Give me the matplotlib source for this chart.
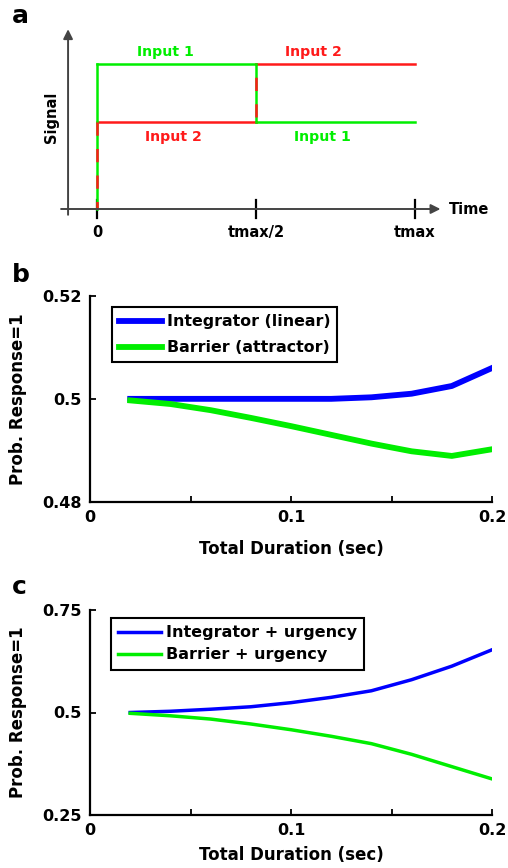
import matplotlib
matplotlib.use("Agg")
import matplotlib.pyplot as plt
import numpy as np

plt.rcParams['font.family'] = ['DejaVu Sans']
plt.rcParams['font.weight'] = 'bold'

# ---------------- data ----------------
# panel a: schematic step inputs (time in units of tmax)
a_times = [0.0, 0.5, 1.0]
a_input1 = [1.0, 0.6]   # level during first half, second half
a_input2 = [0.6, 1.0]
a_tick_labels = ['0', 'tmax/2', 'tmax']

# panel b
durations = [0.02, 0.04, 0.06, 0.08, 0.10, 0.12, 0.14, 0.16, 0.18, 0.20]
b_integrator = [0.5000, 0.5000, 0.5000, 0.5000, 0.5000, 0.5000, 0.5003, 0.5010, 0.5025, 0.5060]
b_barrier = [0.4997, 0.4990, 0.4978, 0.4963, 0.4947, 0.4930, 0.4913, 0.4898, 0.4889, 0.4902]
b_labels = ['Integrator (linear)', 'Barrier (attractor)']

# panel c
c_integrator = [0.500, 0.503, 0.508, 0.514, 0.524, 0.537, 0.553, 0.580, 0.613, 0.653]
c_barrier = [0.498, 0.492, 0.484, 0.472, 0.458, 0.442, 0.424, 0.398, 0.368, 0.338]
c_labels = ['Integrator + urgency', 'Barrier + urgency']

x_ticks = [0, 0.05, 0.1, 0.15, 0.2]
x_ticklabels = ['0', '', '0.1', '', '0.2']

BLUE = '#0000ff'
GREEN = '#00ee00'
RED = '#ff1a1a'

W, H = 508, 868
fig = plt.figure(figsize=(W / 100, H / 100), dpi=100)

def pos(l, t, r, b):
    return [l / W, 1 - b / H, (r - l) / W, (b - t) / H]

# ---------------- panel a ----------------
axa = fig.add_axes(pos(40, 20, 480, 250))
axa.set_xlim((40 - 97) / 318, (480 - 97) / 318)
axa.set_ylim((209 - 250) / 145, (209 - 20) / 145)
axa.axis('off')
ax_col = '#444444'
axa.annotate('', xy=(1.08, 0), xytext=(-0.113, 0),
             arrowprops=dict(arrowstyle='-|>', color=ax_col, lw=1.4, mutation_scale=14, shrinkA=0, shrinkB=0))
axa.annotate('', xy=(-0.091, 1.24), xytext=(-0.091, -0.04),
             arrowprops=dict(arrowstyle='-|>', color=ax_col, lw=1.4, mutation_scale=14, shrinkA=0, shrinkB=0))
for t in a_times:
    axa.plot([t, t], [-0.065, 0.065], color='black', lw=1.6)
lw_a = 1.8
t0, t1, t2 = a_times
# Input 1 (green)
axa.plot([t0, t1], [a_input1[0]] * 2, color=GREEN, lw=lw_a)
axa.plot([t1, t2], [a_input1[1]] * 2, color=GREEN, lw=lw_a)
# Input 2 (red)
axa.plot([t0, t1], [a_input2[0]] * 2, color=RED, lw=lw_a)
axa.plot([t1, t2], [a_input2[1]] * 2, color=RED, lw=lw_a)
# vertical rises (alternating red/green dashes where both inputs overlap)
axa.plot([t0, t0], [0, a_input1[0]], color=GREEN, lw=lw_a)
axa.plot([t0, t0], [a_input2[0], 0], color=RED, lw=lw_a, linestyle=(0, (5.3, 5.3)))
axa.plot([t1, t1], [a_input2[0], a_input1[0]], color=GREEN, lw=lw_a)
axa.plot([t1, t1], [a_input1[0], a_input2[0]], color=RED, lw=lw_a, linestyle=(5.3, (5.3, 5.3)))

for t, lab in zip(a_times, a_tick_labels):
    axa.text(t, -0.16, lab, ha='center', va='center', fontsize=10.5, fontweight='bold')
axa.text(1.105, 0.0, 'Time', ha='left', va='center', fontsize=10.5, fontweight='bold')
axa.text(-0.142, 0.63, 'Signal', ha='center', va='center', rotation=90, fontsize=10.5, fontweight='bold')
fs_in = 10.2
axa.text(0.215, 1.08, 'Input 1', color=GREEN, ha='center', va='center', fontsize=fs_in, fontweight='bold')
axa.text(0.68, 1.08, 'Input 2', color=RED, ha='center', va='center', fontsize=fs_in, fontweight='bold')
axa.text(0.24, 0.5, 'Input 2', color=RED, ha='center', va='center', fontsize=fs_in, fontweight='bold')
axa.text(0.71, 0.5, 'Input 1', color=GREEN, ha='center', va='center', fontsize=fs_in, fontweight='bold')

fig.text(12 / W, 1 - 16 / H, 'a', fontsize=18, fontweight='bold', va='center', ha='left')
fig.text(12 / W, 1 - 275 / H, 'b', fontsize=18, fontweight='bold', va='center', ha='left')
fig.text(12 / W, 1 - 587 / H, 'c', fontsize=18, fontweight='bold', va='center', ha='left')

def style(ax, ylim, yticks, yticklabels, xlabel_y):
    ax.set_xlim(0, 0.2)
    ax.set_ylim(*ylim)
    ax.set_xticks(x_ticks)
    ax.set_xticklabels(x_ticklabels)
    ax.set_yticks(yticks)
    ax.set_yticklabels(yticklabels)
    for s in ['top', 'right']:
        ax.spines[s].set_visible(False)
    for s in ['left', 'bottom']:
        ax.spines[s].set_linewidth(1.6)
    ax.tick_params(direction='in', length=4, width=1.3, labelsize=11.5, pad=6)
    for lab in ax.get_xticklabels() + ax.get_yticklabels():
        lab.set_fontweight('bold')
    ax.set_xlabel('Total Duration (sec)', fontsize=12, fontweight='bold')
    ax.set_ylabel('Prob. Response=1', fontsize=12, fontweight='bold')
    ax.xaxis.set_label_coords(0.5, xlabel_y)
    ax.yaxis.set_label_coords(-0.157, 0.5)

def style_legend(leg):
    leg.get_frame().set_linewidth(1.5)
    for t in leg.get_texts():
        t.set_fontweight('bold')

# ---------------- panel b ----------------
axb = fig.add_axes(pos(90, 296, 492, 501.7))
axb.plot(durations, b_integrator, color=BLUE, lw=4.2, label=b_labels[0])
axb.plot(durations, b_barrier, color=GREEN, lw=4.2, label=b_labels[1])
style(axb, (0.48, 0.52), [0.48, 0.5, 0.52], ['0.48', '0.5', '0.52'], -0.185)
legb = axb.legend(loc='upper left', bbox_to_anchor=((112 - 90) / 402, (501.7 - 307) / 205.7),
                  prop={'size': 11.4, 'weight': 'bold'}, frameon=True, fancybox=False, framealpha=1,
                  edgecolor='black', handlelength=2.7, handletextpad=0.3, labelspacing=0.7,
                  borderpad=0.45, borderaxespad=0)
style_legend(legb)

# ---------------- panel c ----------------
axc = fig.add_axes(pos(90, 610, 492, 815))
axc.plot(durations, c_integrator, color=BLUE, lw=2.5, label=c_labels[0])
axc.plot(durations, c_barrier, color=GREEN, lw=2.5, label=c_labels[1])
style(axc, (0.25, 0.75), [0.25, 0.5, 0.75], ['0.25', '0.5', '0.75'], -0.15)
legc = axc.legend(loc='upper left', bbox_to_anchor=((111 - 90) / 402, (815 - 618) / 205),
                  prop={'size': 11.5, 'weight': 'bold'}, frameon=True, fancybox=False, framealpha=1,
                  edgecolor='black', handlelength=2.7, handletextpad=0.3, labelspacing=0.45,
                  borderpad=0.45, borderaxespad=0)
style_legend(legc)

fig.savefig('out.png', dpi=100)
